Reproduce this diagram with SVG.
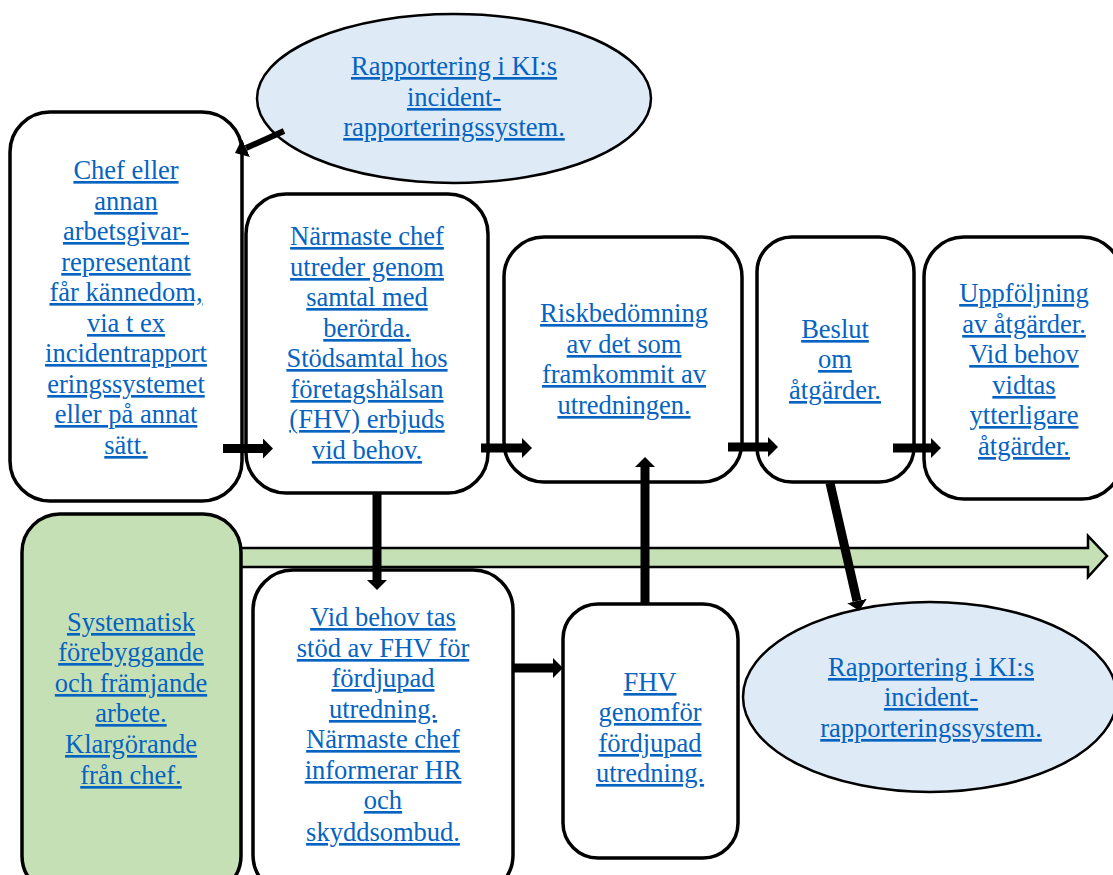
<svg xmlns="http://www.w3.org/2000/svg" width="1113" height="875" viewBox="0 0 1113 875">
<style>
.box{fill:#ffffff;stroke:#000;stroke-width:3.5}
.ell{fill:#DEEAF6;stroke:#000;stroke-width:2.5}
.grn{fill:#C5E0B4;stroke:#000;stroke-width:3.5}
.t{font-family:"Liberation Serif","Times New Roman",serif;font-size:26.5px;fill:#0563C1;text-anchor:middle;text-decoration:underline}
.ar{stroke:#000;stroke-width:9;fill:none;marker-end:url(#ah)}
.ar2{stroke:#000;stroke-width:6;fill:none;marker-end:url(#ah2)}
</style>
<defs>
<marker id="ah" viewBox="0 0 10 20" refX="0" refY="10" markerWidth="10" markerHeight="20" markerUnits="userSpaceOnUse" orient="auto">
<path d="M0,0 L10,10 L0,20 Z" fill="#000"/>
</marker>
<marker id="ah2" viewBox="0 0 12 20" refX="0" refY="10" markerWidth="12" markerHeight="20" markerUnits="userSpaceOnUse" orient="auto">
<path d="M0,0 L12,10 L0,20 Z" fill="#000"/>
</marker>
</defs>
<rect width="1113" height="875" fill="#fff"/>
<g id="green-arrow">
<polygon points="236,548 1088,548 1088,536 1107,556 1088,577 1088,567 236,567" fill="#C5E0B4" stroke="#000" stroke-width="2.5"/>
</g>
<g id="ellipse-top">
<ellipse class="ell" cx="454" cy="98.5" rx="197" ry="84.5"/>
<text class="t"><tspan x="454" y="75">Rapportering i KI:s</tspan><tspan x="454" y="106">incident-</tspan><tspan x="454" y="136">rapporteringssystem.</tspan></text>
</g>
<g id="box1">
<rect class="box" x="10" y="112" width="232" height="389" rx="40"/>
<text class="t"><tspan x="126" y="179">Chef eller</tspan><tspan x="126" y="210">annan</tspan><tspan x="126" y="240">arbetsgivar-</tspan><tspan x="126" y="271">representant</tspan><tspan x="126" y="301">får kännedom,</tspan><tspan x="126" y="332">via t ex</tspan><tspan x="126" y="362">incidentrapport</tspan><tspan x="126" y="393">eringssystemet</tspan><tspan x="126" y="423">eller på annat</tspan><tspan x="126" y="454">sätt.</tspan></text>
</g>
<g id="box2">
<rect class="box" x="246" y="194" width="242" height="299" rx="40"/>
<text class="t"><tspan x="367" y="245">Närmaste chef</tspan><tspan x="367" y="276">utreder genom</tspan><tspan x="367" y="306">samtal med</tspan><tspan x="367" y="337">berörda.</tspan><tspan x="367" y="367">Stödsamtal hos</tspan><tspan x="367" y="398">företagshälsan</tspan><tspan x="367" y="428">(FHV) erbjuds</tspan><tspan x="367" y="459">vid behov.</tspan></text>
</g>
<g id="box3">
<rect class="box" x="504" y="237" width="238" height="245" rx="40"/>
<text class="t"><tspan x="624" y="322">Riskbedömning</tspan><tspan x="624" y="353">av det som</tspan><tspan x="624" y="383">framkommit av</tspan><tspan x="624" y="414">utredningen.</tspan></text>
</g>
<g id="box4">
<rect class="box" x="757" y="237" width="157" height="245" rx="35"/>
<text class="t"><tspan x="835" y="338">Beslut</tspan><tspan x="835" y="368">om</tspan><tspan x="835" y="399">åtgärder.</tspan></text>
</g>
<g id="box5">
<rect class="box" x="924" y="237" width="198" height="262" rx="40"/>
<text class="t"><tspan x="1024" y="302">Uppföljning</tspan><tspan x="1024" y="333">av åtgärder.</tspan><tspan x="1024" y="363">Vid behov</tspan><tspan x="1024" y="394">vidtas</tspan><tspan x="1024" y="424">ytterligare</tspan><tspan x="1024" y="455">åtgärder.</tspan></text>
</g>
<g id="green-box">
<rect class="grn" x="22" y="514" width="219" height="380" rx="38"/>
<text class="t"><tspan x="131" y="631">Systematisk</tspan><tspan x="131" y="661">förebyggande</tspan><tspan x="131" y="692">och främjande</tspan><tspan x="131" y="722">arbete.</tspan><tspan x="131" y="753">Klargörande</tspan><tspan x="131" y="784">från chef.</tspan></text>
</g>
<g id="box6">
<rect class="box" x="253" y="570" width="260" height="325" rx="40"/>
<text class="t"><tspan x="383" y="626">Vid behov tas</tspan><tspan x="383" y="657">stöd av FHV för</tspan><tspan x="383" y="687">fördjupad</tspan><tspan x="383" y="718">utredning.</tspan><tspan x="383" y="748">Närmaste chef</tspan><tspan x="383" y="779">informerar HR</tspan><tspan x="383" y="809">och</tspan><tspan x="383" y="841">skyddsombud.</tspan></text>
</g>
<g id="box7">
<rect class="box" x="563" y="604" width="175" height="254" rx="35"/>
<text class="t"><tspan x="650" y="691">FHV</tspan><tspan x="650" y="721">genomför</tspan><tspan x="650" y="752">fördjupad</tspan><tspan x="650" y="782">utredning.</tspan></text>
</g>
<g id="ellipse-bottom">
<ellipse class="ell" cx="930" cy="697" rx="187" ry="95"/>
<text class="t"><tspan x="931" y="676">Rapportering i KI:s</tspan><tspan x="931" y="706">incident-</tspan><tspan x="931" y="737">rapporteringssystem.</tspan></text>
</g>
<g id="connectors">
<line class="ar" x1="223" y1="448.5" x2="263" y2="448.5"/>
<line class="ar" x1="481" y1="448" x2="522" y2="448"/>
<line class="ar" x1="728" y1="447" x2="768" y2="447"/>
<line class="ar" x1="893" y1="448" x2="931" y2="448"/>
<line class="ar" x1="377" y1="493" x2="377" y2="580"/>
<line class="ar" x1="513" y1="668" x2="553" y2="668"/>
<line class="ar" x1="645" y1="604" x2="645" y2="467"/>
<line class="ar" x1="830" y1="483" x2="857" y2="601"/>
<line class="ar2" x1="284" y1="131" x2="246" y2="148"/>
</g>
</svg>
